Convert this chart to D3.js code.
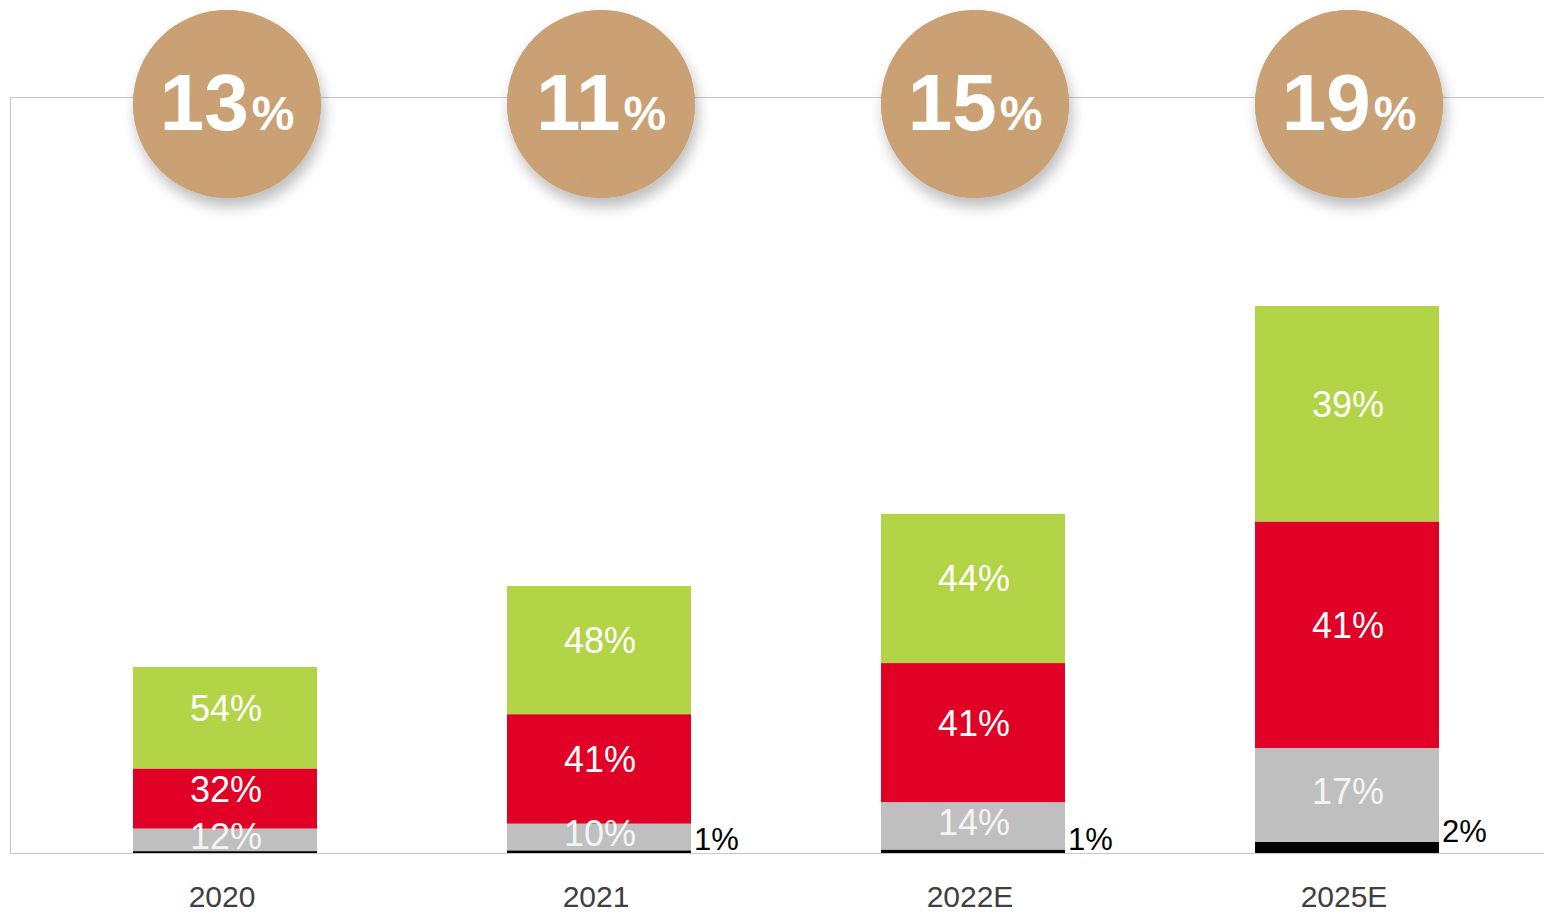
<!DOCTYPE html>
<html>
<head>
<meta charset="utf-8">
<script src="https://cdn.jsdelivr.net/npm/d3@7"></script>
<style>
  html, body { margin: 0; padding: 0; background: #fff; }
  svg { display: block; font-family: "Liberation Sans", Arial, sans-serif; }
</style>
</head>
<body>
<svg id="chart" width="1544" height="915"></svg>
<script>
// Years on the x axis
const categories = ["2020", "2021", "2022E", "2025E"];
// Relative total size of each year's bar (2025E = 100)
const totals = [34, 48.8, 62, 100];
// Growth rate shown in each badge
const growth = [13, 11, 15, 19];
// Share of each segment, in %, bottom to top
const shareBlack = [1, 1, 1, 2];
const shareGray = [12, 10, 14, 17];
const shareRed = [32, 41, 41, 41];
const shareGreen = [54, 48, 44, 39];
// Whether the black share gets a printed label
const blackLabelled = [false, true, true, true];

const seriesNames = ["black", "gray", "red", "green"];
const seriesShares = [shareBlack, shareGray, shareRed, shareGreen];
const colors = { black: "#000000", gray: "#bfbfbf", red: "#e10026", green: "#b3d446" };

const svg = d3.select("#chart");
const margin = { left: 10, top: 97, right: 0, bottom: 62 };
const W = 1544, H = 915;
const plotBottom = H - margin.bottom; // 853

// Bars are 184px wide, 374px apart, the first starting at x=133
const step = 374, bw = 184, x0 = 133;
const x = d3.scaleBand().domain(categories)
  .range([x0, x0 + step * 3 + bw])
  .paddingInner((step - bw) / step).paddingOuter(0);

const y = d3.scaleLinear().domain([0, 138.2]).range([plotBottom, margin.top]);

// Defs: badge shadow and paper texture
const defs = svg.append("defs");
const sh = defs.append("filter").attr("id", "badgeShadow")
  .attr("x", "-30%").attr("y", "-30%").attr("width", "160%").attr("height", "170%");
sh.append("feDropShadow").attr("dx", 3).attr("dy", 9).attr("stdDeviation", 7)
  .attr("flood-color", "#000").attr("flood-opacity", 0.26);

const tex = defs.append("filter").attr("id", "paper").attr("x", 0).attr("y", 0).attr("width", "100%").attr("height", "100%");
tex.append("feTurbulence").attr("type", "fractalNoise").attr("baseFrequency", "0.9 0.05").attr("numOctaves", 2).attr("seed", 4).attr("result", "noise");
tex.append("feColorMatrix").attr("in", "noise").attr("type", "matrix")
  .attr("values", "0 0 0 0 0.5  0 0 0 0 0.35  0 0 0 0 0.2  0 0 0 0.10 0").attr("result", "tint");
tex.append("feComposite").attr("in", "tint").attr("in2", "SourceGraphic").attr("operator", "in").attr("result", "tintIn");
tex.append("feMerge").selectAll("feMergeNode").data(["SourceGraphic", "tintIn"]).join("feMergeNode").attr("in", d => d);

// Frame: top, left and bottom rules
const frame = svg.append("g").attr("stroke", "#c8c8c8").attr("stroke-width", 1.2).attr("fill", "none");
frame.append("line").attr("x1", margin.left).attr("x2", W).attr("y1", y(138.2) + 0.5).attr("y2", y(138.2) + 0.5);
frame.append("line").attr("x1", margin.left + 0.5).attr("x2", margin.left + 0.5).attr("y1", y(138.2)).attr("y2", plotBottom);

// Stacked bars
const rows = categories.map((c, i) => {
  const shares = seriesShares.map(s => s[i]);
  const sum = d3.sum(shares);
  let acc = 0;
  return seriesNames.map((name, k) => {
    const v = totals[i] * shares[k] / sum;
    const seg = { cat: c, i, name, share: shares[k], y0: acc, y1: acc + v };
    acc += v;
    return seg;
  });
});
const segs = rows.flat();

const bars = svg.append("g");
bars.selectAll("rect").data(segs).join("rect")
  .attr("x", d => x(d.cat))
  .attr("width", x.bandwidth())
  .attr("y", d => y(d.y1))
  .attr("height", d => y(d.y0) - y(d.y1))
  .attr("fill", d => colors[d.name]);

frame.append("line").attr("x1", margin.left).attr("x2", W).attr("y1", plotBottom + 0.5).attr("y2", plotBottom + 0.5);

// Labels inside segments (set a little above the middle)
svg.append("g").selectAll("text").data(segs.filter(d => d.name !== "black")).join("text")
  .attr("x", d => x(d.cat) + x.bandwidth() / 2 + 1)
  .attr("y", d => (y(d.y0) + y(d.y1)) / 2 + (d.name === "gray" ? 9 : 3))
  .attr("text-anchor", "middle")
  .attr("font-size", 36)
  .attr("fill", d => d.name === "gray" ? "#f4f4f4" : "#ffffff")
  .text(d => d.share + "%");

// Labels for the black sliver, to the right of the bar, sitting on its top edge
svg.append("g").selectAll("text").data(segs.filter(d => d.name === "black" && blackLabelled[d.i])).join("text")
  .attr("x", d => x(d.cat) + x.bandwidth() + 3)
  .attr("y", d => Math.min(y(d.y1), plotBottom - 1))
  .attr("font-size", 31)
  .attr("fill", "#000")
  .text(d => d.share + "%");

// Category axis
const xAxis = svg.append("g").attr("transform", `translate(0,${plotBottom})`)
  .call(d3.axisBottom(x).tickSize(0).tickPadding(33));
xAxis.select(".domain").remove();
xAxis.selectAll("text").attr("font-size", 30).attr("fill", "#404040")
  .attr("font-family", "Liberation Sans, Arial, sans-serif").attr("dx", -3);

// Growth badges
const badges = svg.append("g").selectAll("g").data(categories).join("g")
  .attr("transform", d => `translate(${x(d) + x.bandwidth() / 2 + 2},104)`);
badges.append("circle").attr("r", 94).attr("fill", "#cba174").attr("filter", "url(#badgeShadow)");
badges.append("circle").attr("r", 94).attr("fill", "#cba174").attr("filter", "url(#paper)");
const bt = badges.append("text").attr("y", 26).attr("text-anchor", "middle")
  .attr("fill", "#fff").attr("font-weight", "bold");
bt.append("tspan").attr("font-size", 80).text((d, i) => growth[i]);
bt.append("tspan").attr("font-size", 48).attr("dx", 3).text("%");
</script>
</body>
</html>
